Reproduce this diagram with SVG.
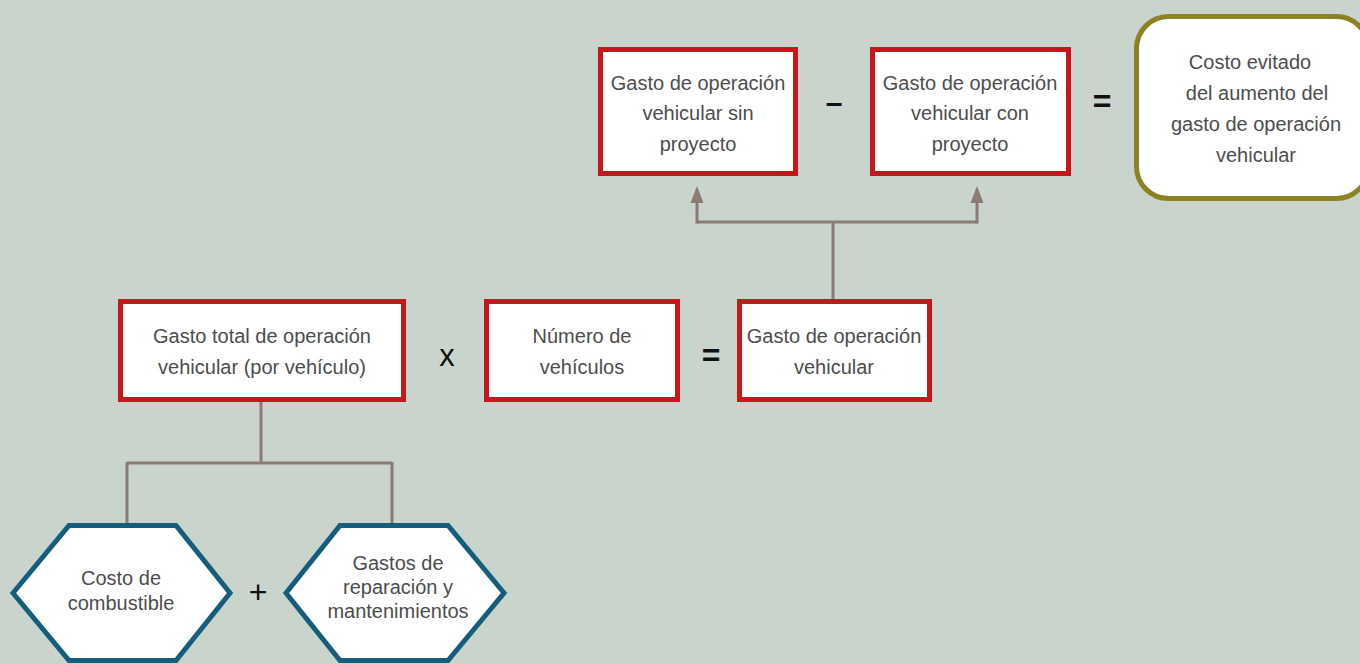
<svg xmlns="http://www.w3.org/2000/svg" width="1360" height="664" viewBox="0 0 1360 664">
<defs>
<marker id="arr" markerWidth="18" markerHeight="14" viewBox="0 0 18 14" refX="13" refY="7" orient="auto" markerUnits="userSpaceOnUse">
<path d="M0,0.5 L17,7 L0,13.5 Z" fill="#8b7b72"/>
</marker>
</defs>
<style>
.bg{fill:#c9d5cc}
.box{fill:#ffffff;stroke:#c8161d;stroke-width:5}
.hex{fill:#ffffff;stroke:#155e7b;stroke-width:5;stroke-linejoin:miter}
.rbox{fill:#ffffff;stroke:#8c8221;stroke-width:5}
.t{font-family:"Liberation Sans",Arial,sans-serif;font-size:20px;fill:#4d4d4d;text-anchor:middle}
.op{font-family:"Liberation Sans",Arial,sans-serif;fill:#111111;text-anchor:middle}
.conn{fill:none;stroke:#8b7b72;stroke-width:3}
</style>
<rect class="bg" x="0" y="0" width="1360" height="664"/>

<g id="connectors">
<path class="conn" d="M261,402 V463 M127,463 H392 M127,462 V523 M392,462 V523"/>
<path class="conn" d="M833,299 V222 M697,222 H977"/>
<path class="conn" d="M697,223.5 V190" marker-end="url(#arr)"/>
<path class="conn" d="M977,223.5 V190" marker-end="url(#arr)"/>
</g>

<g id="node-sin-proyecto">
<rect class="box" x="600.5" y="49.5" width="195" height="124"/>
<text class="t" x="698" y="90">Gasto de operación</text>
<text class="t" x="698" y="120">vehicular sin</text>
<text class="t" x="698" y="151">proyecto</text>
</g>

<g id="node-con-proyecto">
<rect class="box" x="872.5" y="49.5" width="196" height="124"/>
<text class="t" x="970" y="90">Gasto de operación</text>
<text class="t" x="970" y="120">vehicular con</text>
<text class="t" x="970" y="151">proyecto</text>
</g>

<g id="node-costo-evitado">
<rect class="rbox" x="1136.5" y="16.5" width="232" height="182" rx="32" ry="32"/>
<text class="t" x="1250" y="69">Costo evitado</text>
<text class="t" x="1257" y="100">del aumento del</text>
<text class="t" x="1256" y="131">gasto de operación</text>
<text class="t" x="1256" y="162">vehicular</text>
</g>

<g id="node-gasto-total">
<rect class="box" x="120.5" y="301.5" width="283" height="98"/>
<text class="t" x="262" y="343">Gasto total de operación</text>
<text class="t" x="262" y="374">vehicular (por vehículo)</text>
</g>

<g id="node-numero">
<rect class="box" x="486.5" y="301.5" width="191" height="98"/>
<text class="t" x="582" y="343">Número de</text>
<text class="t" x="582" y="374">vehículos</text>
</g>

<g id="node-gasto-operacion">
<rect class="box" x="739.5" y="301.5" width="190" height="98"/>
<text class="t" x="834" y="343">Gasto de operación</text>
<text class="t" x="834" y="374">vehicular</text>
</g>

<g id="node-combustible">
<polygon class="hex" points="13,593 69,525.5 176,525.5 230,593 176,660.5 69,660.5"/>
<text class="t" x="121" y="585">Costo de</text>
<text class="t" x="121" y="610">combustible</text>
</g>

<g id="node-reparacion">
<polygon class="hex" points="286,593 340,525.5 448,525.5 504,593 448,660.5 340,660.5"/>
<text class="t" x="398" y="570">Gastos de</text>
<text class="t" x="398" y="594">reparación y</text>
<text class="t" x="398" y="618">mantenimientos</text>
</g>

<g id="operators">
<text class="op" x="834" y="113" font-size="30" font-weight="bold">–</text>
<text class="op" x="1102" y="112" font-size="32" font-weight="bold">=</text>
<text class="op" x="447" y="366" font-size="31">x</text>
<text class="op" x="711" y="366" font-size="32" font-weight="bold">=</text>
<text class="op" x="258" y="603" font-size="32">+</text>
</g>
</svg>
